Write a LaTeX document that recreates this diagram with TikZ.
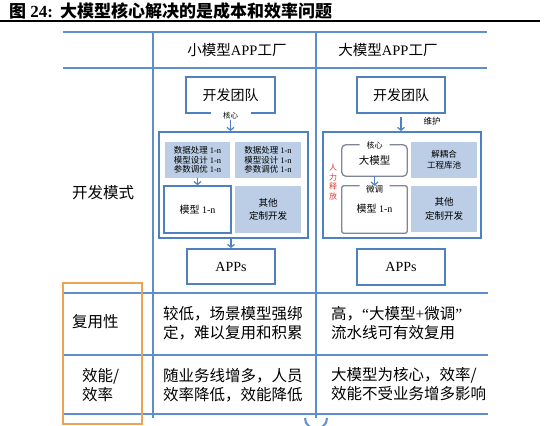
\documentclass[tikz,border=0pt]{standalone}
\usepackage{fontspec}
\setmainfont{Liberation Serif}
\newfontfamily\cjk{Noto Sans CJK SC}
\usetikzlibrary{arrows.meta}
\definecolor{tblue}{RGB}{95,142,205}
\definecolor{bblue}{RGB}{78,130,190}
\definecolor{sfill}{RGB}{187,206,229}
\definecolor{orng}{RGB}{238,162,84}
\definecolor{hred}{RGB}{228,60,60}
\definecolor{gborder}{RGB}{125,135,150}
\newcommand\fsz[2]{\fontsize{#1}{#2}\selectfont}
\begin{document}
\begin{tikzpicture}[x=1pt,y=-1pt,
  tline/.style={draw=tblue,line width=1.4pt},
  bbox/.style={draw=bblue,line width=1.8pt,inner sep=0pt,align=center},
  sbox/.style={fill=sfill,inner sep=0pt,align=center},
  plain/.style={inner sep=0pt,align=center},
  rtxt/.style={anchor=west,inner sep=0pt,align=left,font=\cjk\fsz{15.5}{19}},
  arr/.style={draw=bblue,line width=1.2pt,-{Straight Barb[length=3pt,width=7pt]}},
  gline/.style={draw=gborder,line width=1.3pt},
  ]
\useasboundingbox (0,0) rectangle (550,426);
\fill[white] (0,0) rectangle (550,426);
% title
\node[anchor=west,inner sep=0pt,font=\bfseries\fsz{17}{19}] (title) at (9,11)
  {{\cjk 图} 24:\hspace{7pt}{\cjk 大模型核心解决的是成本和效率问题}};
\draw[line width=1.3pt] (0,21) -- (540,21);
% table lines
\draw[tline] (63,32) -- (487,32);
\draw[tline] (63,68) -- (487,68);
\draw[tline] (63,293) -- (488,293);
\draw[tline] (63,355) -- (488,355);
\draw[tline] (63,414) -- (488,414);
\draw[tline] (153,32) -- (153,418);
\draw[tline] (316,32) -- (316,418);
\draw[tblue,line width=2pt] (305,418) .. controls (305,432) and (327,432) .. (327,418);
\draw[orng,line width=2.4pt] (63,283) rectangle (142,424);
% headers
\node[plain,font=\fsz{14.5}{16}] (h2) at (237,50) {{\cjk 小模型}APP{\cjk 工厂}};
\node[plain,font=\fsz{14.5}{16}] (h3) at (388,50) {{\cjk 大模型}APP{\cjk 工厂}};
\node[rtxt] (dev) at (72,193) {开发模式};
\node[rtxt] (reuse) at (72,322) {复用性};
\node[rtxt] (eff) at (82,385) {效能/\\效率};
\node[rtxt] (r1c2) at (163,323) {较低，场景模型强绑\\定，难以复用和积累};
\node[rtxt] (r2c2) at (163,385) {随业务线增多，人员\\效率降低，效能降低};
\node[rtxt] (r1c3) at (331,323) {高，{\rmfamily “}大模型{\rmfamily +}微调{\rmfamily ”}\\流水线可有效复用};
\node[rtxt] (r2c3) at (331,384) {大模型为核心，效率/\\效能不受业务增多影响};
% column 2
\node[plain,minimum width=89pt,minimum height=36pt,font=\cjk\fsz{14}{16}] (team2) at (230.5,95) {开发团队};
\draw[bblue,line width=1.8pt] ([xshift=-20pt]team2.south) -- (team2.south west) -- (team2.north west)
  -- (team2.north east) -- (team2.south east) -- ([xshift=20pt]team2.south);
\node[plain,font=\cjk\fsz{7.5}{8}] (hx2) at (230.5,116) {核心};
\node[bbox,minimum width=149pt,minimum height=106pt] (outer2) at (233.5,185) {};
\draw[arr] (hx2.south) -- (hx2.south |- outer2.north);
\node[sbox,minimum width=65pt,minimum height=36pt,font=\fsz{8.5}{9.5}] (s2a) at (197.5,160)
  {{\cjk 数据处理} 1-n\\{\cjk 模型设计} 1-n\\{\cjk 参数调优} 1-n};
\node[sbox,minimum width=66pt,minimum height=36pt,font=\fsz{8.5}{9.5}] (s2b) at (268,160)
  {{\cjk 数据处理} 1-n\\{\cjk 模型设计} 1-n\\{\cjk 参数调优} 1-n};
\node[draw=bblue,line width=1.5pt,fill=white,minimum width=67pt,minimum height=47pt,inner sep=0pt,font=\fsz{10}{12}] (m2) at (197.5,209.5) {{\cjk 模型} 1-n};
\node[sbox,minimum width=66pt,minimum height=47pt,font=\cjk\fsz{9.5}{13.5}] (o2) at (268,209.5) {其他\\定制开发};
\draw[arr] (s2a.south) -- (m2.north);
\node[bbox,minimum width=88pt,minimum height=35pt,font=\fsz{14}{16}] (app2) at (231,266.5) {APPs};
\draw[arr] (app2.north |- outer2.south) -- (app2.north);
% column 3
\node[bbox,minimum width=88pt,minimum height=36pt,font=\cjk\fsz{14}{16}] (team3) at (401,95) {开发团队};
\node[plain,font=\cjk\fsz{8.5}{10}] (wh3) at (432,121) {维护};
\node[bbox,minimum width=158pt,minimum height=106pt] (outer3) at (402,185) {};
\draw[arr,shorten <=3pt] (team3.south) -- (team3.south |- outer3.north);
\node[plain,minimum width=65pt,minimum height=31pt,font=\cjk\fsz{10.5}{12}] (core3) at (374.5,160.5) {大模型};
\node[plain,font=\cjk\fsz{8}{9}] (hx3) at (374.5,145) {核心};
\draw[gline,rounded corners=4pt] ([xshift=-15pt]core3.north) -| (core3.south west) -- (core3.south east) |- ([xshift=15pt]core3.north);
\node[plain,minimum width=65pt,minimum height=47pt] (tune3) at (374.5,209.5) {};
\node[plain,font=\cjk\fsz{8.5}{10}] (wt3) at (374.5,189) {微调};
\node[plain,font=\fsz{10}{12}] (m3) at (374.5,209) {{\cjk 模型} 1-n};
\draw[gline,rounded corners=2pt] ([xshift=-15pt]tune3.north) -| (tune3.south west) -- (tune3.south east) |- ([xshift=15pt]tune3.north);
\draw[arr] (core3.south) -- (tune3.north);
\node[sbox,minimum width=66pt,minimum height=36pt,font=\cjk\fsz{8.5}{10.5}] (s3a) at (444,160) {解耦合\\工程库池};
\node[sbox,minimum width=66pt,minimum height=46pt,font=\cjk\fsz{9.5}{13.5}] (s3b) at (444,209) {其他\\定制开发};
\node[plain,text=hred,font=\cjk\fsz{8}{9.5}] (rl) at (333,182) {人\\力\\释\\放};
\node[bbox,minimum width=88pt,minimum height=36pt,font=\fsz{14}{16}] (app3) at (401,267) {APPs};
\end{tikzpicture}
\end{document}
